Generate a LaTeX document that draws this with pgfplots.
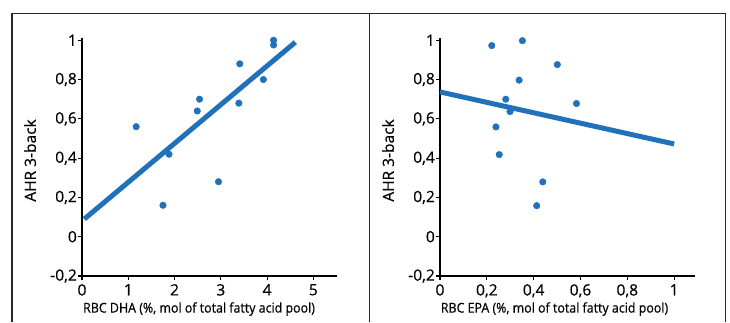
\documentclass[border=0pt]{standalone}
\usepackage{pgfplots}
\pgfplotsset{compat=1.18}
\usepackage{fontspec}
\setmainfont[FakeBold=0.5]{Open Sans}
\newfontfamily\narrowfont[FakeStretch=0.92,FakeBold=0.5]{Open Sans}
\definecolor{dotblue}{RGB}{33,113,186}
\pgfplotsset{
  myaxis/.style={
    scale only axis,
    width=254.5pt, height=237.7pt,
    anchor=south west,
    axis lines=left,
    axis line style={line width=1.3pt, -, black},
    ymin=-0.2, ymax=1.01,
    ytick={-0.2,0,0.2,0.4,0.6,0.8,1},
    yticklabels={{-0,2},{0},{0,2},{0,4},{0,6},{0,8},{1}},
    tick align=outside,
    major tick length=4pt,
    tick style={line width=1.1pt, black},
    tick label style={font=\fontsize{15.5}{17}\selectfont},
    yticklabel style={anchor=east, inner sep=0pt, xshift=-1pt},
    xticklabel style={anchor=north, inner sep=0pt, yshift=-4pt},
    clip=false,
    ylabel={AHR 3-back},
    ylabel style={at={(axis description cs:-0.204,0.486)}, anchor=center, rotate=0, font=\fontsize{15.5}{17}\selectfont},
    xlabel style={anchor=center, font=\narrowfont\fontsize{13.5}{15}\selectfont},
  }
}
\begin{document}
\begin{tikzpicture}[x=1pt,y=1pt]
\path[use as bounding box] (0,0) rectangle (730,322);
\draw[line width=1.5pt, black!85] (12,0) -- (12,308.5) -- (725.5,308.5) -- (725.5,0);
\draw[line width=1.5pt, black!85] (369.5,0) -- (369.5,308.5);
\begin{axis}[myaxis, at={(82pt,46pt)},
  xmin=0, xmax=5.5,
  xtick={0,1,2,3,4,5},
  xticklabels={0,1,2,3,4,5},
  xlabel={RBC DHA (\%, mol of total fatty acid pool)},
  xlabel style={at={(axis description cs:0.46,-0.139)}},
]
\addplot[only marks, mark=*, mark size=3.3pt, color=dotblue] coordinates {
(1.17,0.56) (1.75,0.16) (1.88,0.42) (2.49,0.64) (2.54,0.70) (2.95,0.28)
(3.39,0.68) (3.41,0.88) (3.92,0.80) (4.14,1.00) (4.14,0.976)
};
\addplot[no marks, line width=5pt, color=dotblue] coordinates {(0.05,0.09) (4.61,0.99)};
\end{axis}
\begin{axis}[myaxis, at={(440pt,46pt)},
  xmin=0, xmax=1.087,
  xtick={0,0.2,0.4,0.6,0.8,1},
  xticklabels={{0},{0,2},{0,4},{0,6},{0,8},{1}},
  xlabel={RBC EPA (\%, mol of total fatty acid pool)},
  xlabel style={at={(axis description cs:0.45,-0.139)}},
]
\addplot[only marks, mark=*, mark size=3.3pt, color=dotblue] coordinates {
(0.221,0.973) (0.352,0.998) (0.501,0.876) (0.338,0.797) (0.281,0.70)
(0.299,0.637) (0.583,0.678) (0.239,0.559) (0.253,0.418) (0.439,0.279) (0.413,0.158)
};
\addplot[no marks, line width=5pt, color=dotblue] coordinates {(0,0.737) (1,0.472)};
\end{axis}
\end{tikzpicture}
\end{document}
